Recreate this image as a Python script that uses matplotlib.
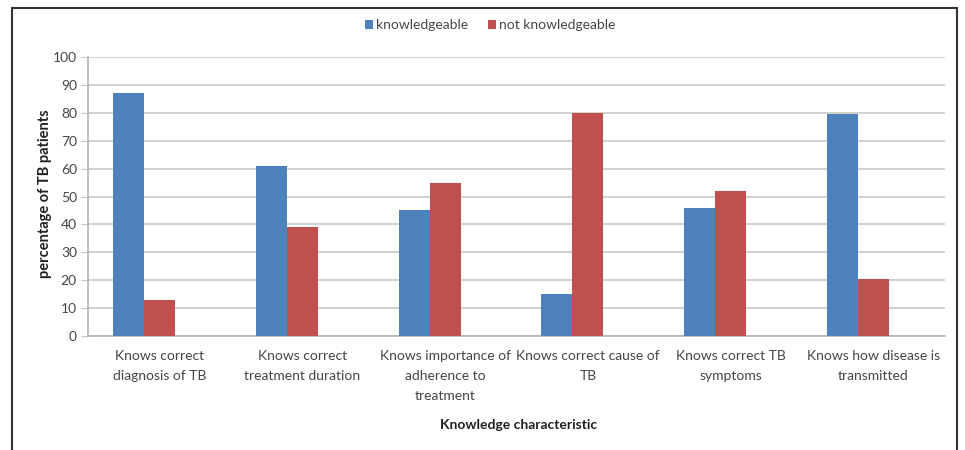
import matplotlib
matplotlib.use("Agg")
import matplotlib.pyplot as plt
from matplotlib.patches import Rectangle
import numpy as np

categories = [
    "Knows correct\ndiagnosis of TB",
    "Knows correct\ntreatment duration",
    "Knows importance of\nadherence to\ntreatment",
    "Knows correct cause of\nTB",
    "Knows correct TB\nsymptoms",
    "Knows how disease is\ntransmitted",
]
knowledgeable = [87, 61, 45, 15, 46, 79.5]
not_knowledgeable = [13, 39, 55, 80, 52, 20.5]
series_names = ["knowledgeable", "not knowledgeable"]
y_ticks = list(range(0, 101, 10))

BLUE = "#4F81BD"
RED = "#C0504D"
TEXT = "#454545"
GRID = "#c4c4c4"

plt.rcParams["font.family"] = ["Lato", "DejaVu Sans"]

fig = plt.figure(figsize=(9.65, 4.5), dpi=100)
ax = fig.add_axes([0.0912, 0.2533, 0.8881, 0.62])

x = np.arange(len(categories))
w = 0.217
ax.bar(x - w, knowledgeable, width=w, color=BLUE, label=series_names[0], zorder=3)
ax.bar(x, not_knowledgeable, width=w, color=RED, label=series_names[1], zorder=3)

ax.set_xlim(-0.5, len(categories) - 0.5)
ax.set_ylim(0, 100)
ax.set_yticks(y_ticks)
ax.yaxis.grid(True, color=GRID, linewidth=1.1, zorder=0)
ax.set_axisbelow(True)

ax.set_xticks(x)
ax.set_xticklabels(categories, fontsize=10, color=TEXT)
for lbl in ax.get_xticklabels():
    lbl.set_linespacing(1.8)
ax.tick_params(axis="x", length=0, pad=10)
ax.tick_params(axis="y", length=5, color=GRID, labelsize=10, labelcolor=TEXT, pad=3)

for side in ["top", "right"]:
    ax.spines[side].set_visible(False)
for side in ["left", "bottom"]:
    ax.spines[side].set_color("#b0b0b0")
    ax.spines[side].set_linewidth(1.1)

fig.text(0.0466, 0.57, "percentage of TB patients", rotation=90, ha="center",
         va="center", fontsize=10.5, fontweight="bold", color="#202020")
fig.text(0.537, 0.055, "Knowledge characteristic", ha="center", va="center",
         fontsize=10, fontweight="bold", color="#202020")

fig.legend(loc="center", bbox_to_anchor=(0.508, 0.944), ncol=2, frameon=False,
           fontsize=10, handlelength=0.6, handleheight=0.6, handletextpad=0.2,
           columnspacing=1.4, labelcolor=TEXT)

# outer frame around the chart area
fig.add_artist(Rectangle((12 / 965, -0.05), 945 / 965, 1.05 - 8 / 450,
                         transform=fig.transFigure, fill=False,
                         edgecolor="#333333", linewidth=1.5, clip_on=False))

fig.savefig("out.png", dpi=100, facecolor="white")
